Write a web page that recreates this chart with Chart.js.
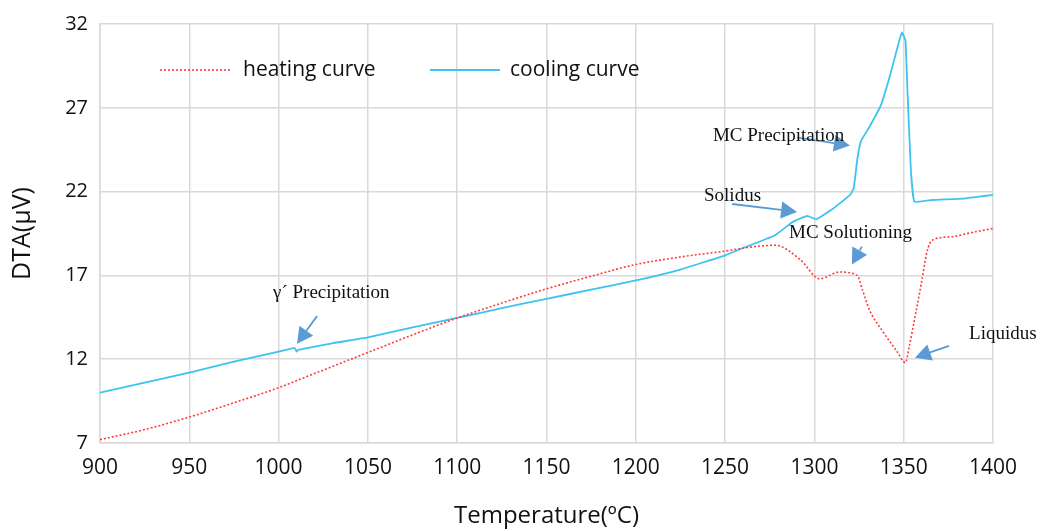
<!DOCTYPE html>
<html lang="en">
<head>
  <meta charset="UTF-8" />
  <title>DTA heating / cooling curves</title>
  <script src="https://cdn.jsdelivr.net/npm/chart.js"></script>
  <style>
    html, body { margin: 0; padding: 0; background: #fff; }
    #wrap { width: 1041px; height: 531px; }
  </style>
</head>
<body>
  <div id="wrap"><canvas id="dtaChart" width="1041" height="531"></canvas></div>
  <script>
    // heating curve (red dotted)
    const heatT = [900, 925, 950, 975, 1000, 1025, 1050, 1075, 1100, 1125, 1150, 1175, 1200, 1225, 1250, 1265, 1278, 1292, 1303, 1314, 1324, 1327, 1331, 1338, 1346, 1351, 1353, 1357, 1360, 1363, 1366, 1376, 1390, 1400];
    const heatV = [7.2, 7.8, 8.55, 9.4, 10.3, 11.35, 12.4, 13.45, 14.46, 15.35, 16.2, 16.95, 17.65, 18.1, 18.45, 18.7, 18.8, 17.95, 16.8, 17.2, 17.0, 16.1, 14.9, 13.7, 12.5, 11.8, 12.7, 14.9, 16.6, 18.4, 19.1, 19.3, 19.6, 19.8];

    // cooling curve (blue)
    const coolT = [900, 925, 950, 975, 1000, 1009, 1010, 1011, 1030, 1050, 1075, 1100, 1125, 1150, 1175, 1200, 1225, 1250, 1264, 1278, 1288, 1296, 1301, 1310, 1320, 1322, 1324, 1326, 1331, 1337, 1342, 1347, 1349, 1351, 1352, 1354, 1356, 1366, 1385, 1400];
    const coolV = [10.0, 10.6, 11.2, 11.85, 12.45, 12.68, 12.45, 12.55, 12.95, 13.3, 13.9, 14.46, 15.05, 15.6, 16.15, 16.7, 17.35, 18.2, 18.8, 19.4, 20.2, 20.55, 20.35, 20.95, 21.8, 22.2, 23.9, 25.0, 25.9, 27.1, 28.8, 30.8, 31.5, 31.0, 28.3, 23.3, 21.4, 21.5, 21.6, 21.8];

    const xTicks = [900, 1400, 50];
    const yTicks = [7, 32, 5];

    // annotations (data coordinates)
    const noteText = ['γ´ Precipitation', 'MC Precipitation', 'Solidus', 'MC Solutioning', 'Liquidus'];
    const noteX = [996.9, 1243.2, 1238.2, 1285.8, 1386.6];
    const noteY = [15.93, 25.34, 21.73, 19.54, 13.5];
    const arrowFrom = [[1021.5, 14.57], [1290.3, 25.22], [1253.9, 21.26], [1326.6, 18.72], [1375.4, 12.80]];
    const arrowTo = [[1010.3, 12.92], [1319.9, 24.75], [1290.3, 20.79], [1321.0, 17.65], [1356.3, 12.09]];

    const heatColor = '#ff3b3b';
    const coolColor = '#3cc3ef';
    const arrowColor = '#5b9bd5';
    const gridColor = '#d9d9d9';

    const pts = (xs, ys) => xs.map((x, i) => ({ x: x, y: ys[i] }));

    const notesPlugin = {
      id: 'notes',
      afterDatasetsDraw(chart) {
        const c = chart.ctx, xs = chart.scales.x, ys = chart.scales.y;
        c.save();
        // arrows
        arrowFrom.forEach((f, i) => {
          const x0 = xs.getPixelForValue(f[0]), y0 = ys.getPixelForValue(f[1]);
          const x1 = xs.getPixelForValue(arrowTo[i][0]), y1 = ys.getPixelForValue(arrowTo[i][1]);
          const ang = Math.atan2(y1 - y0, x1 - x0);
          const hl = 16, hw = 8.5;
          const bx = x1 - hl * Math.cos(ang), by = y1 - hl * Math.sin(ang);
          c.strokeStyle = arrowColor;
          c.fillStyle = arrowColor;
          c.lineWidth = 1.8;
          c.beginPath();
          c.moveTo(x0, y0);
          c.lineTo(bx, by);
          c.stroke();
          c.beginPath();
          c.moveTo(x1, y1);
          c.lineTo(bx + hw * Math.sin(ang), by - hw * Math.cos(ang));
          c.lineTo(bx - hw * Math.sin(ang), by + hw * Math.cos(ang));
          c.closePath();
          c.fill();
        });
        // labels
        c.fillStyle = '#111';
        c.font = '19px "Liberation Serif", "DejaVu Serif", serif';
        c.textAlign = 'left';
        c.textBaseline = 'middle';
        noteText.forEach((t, i) => {
          c.fillText(t, xs.getPixelForValue(noteX[i]), ys.getPixelForValue(noteY[i]));
        });

        // legend inside the plot
        const lx = chart.chartArea.left, ly = chart.chartArea.top + 46;
        c.lineWidth = 1.6;
        c.strokeStyle = heatColor;
        c.setLineDash([2, 2]);
        c.beginPath(); c.moveTo(lx + 60, ly); c.lineTo(lx + 132, ly); c.stroke();
        c.setLineDash([]);
        c.strokeStyle = coolColor;
        c.lineWidth = 1.8;
        c.beginPath(); c.moveTo(lx + 330, ly); c.lineTo(lx + 400, ly); c.stroke();
        c.fillStyle = '#111';
        c.font = '21px "Open Sans", sans-serif';
        c.fillText('heating curve', lx + 143, ly);
        c.fillText('cooling curve', lx + 410, ly);
        c.restore();
      }
    };

    new Chart(document.getElementById('dtaChart'), {
      type: 'line',
      data: {
        datasets: [
          {
            label: 'heating curve',
            data: pts(heatT, heatV),
            borderColor: heatColor,
            borderWidth: 1.6,
            borderDash: [2, 2],
            pointRadius: 0,
            cubicInterpolationMode: 'monotone',
            fill: false
          },
          {
            label: 'cooling curve',
            data: pts(coolT, coolV),
            borderColor: coolColor,
            borderWidth: 1.8,
            pointRadius: 0,
            tension: 0.1,
            fill: false
          }
        ]
      },
      options: {
        responsive: false,
        animation: false,
        layout: { padding: { left: 0, right: 48, top: 20, bottom: 0 } },
        plugins: {
          legend: { display: false },
          tooltip: { enabled: false }
        },
        scales: {
          x: {
            type: 'linear',
            min: xTicks[0], max: xTicks[1],
            ticks: { stepSize: xTicks[2], color: '#111', font: { family: 'Open Sans', size: 21 }, padding: 12, callback: v => String(v) },
            grid: { color: gridColor, lineWidth: 1.5, drawTicks: false },
            border: { color: gridColor, width: 1.5 },
            title: { display: true, text: 'Temperature(ºC)', color: '#111', font: { family: 'Open Sans', size: 24 }, padding: { top: 4, bottom: 0 } },
            afterFit: s => { s.height = 88; }
          },
          y: {
            min: yTicks[0], max: yTicks[1],
            ticks: { stepSize: yTicks[2], color: '#111', font: { family: 'Open Sans', size: 20 }, padding: 12 },
            grid: { color: gridColor, lineWidth: 1.5, drawTicks: false },
            border: { color: gridColor, width: 1.5 },
            title: { display: true, text: 'DTA(μV)', color: '#111', font: { family: 'Open Sans', size: 25 }, padding: { top: 8, bottom: 0 } },
            afterFit: s => { s.width = 100; }
          }
        }
      },
      plugins: [notesPlugin]
    });
  </script>
</body>
</html>
